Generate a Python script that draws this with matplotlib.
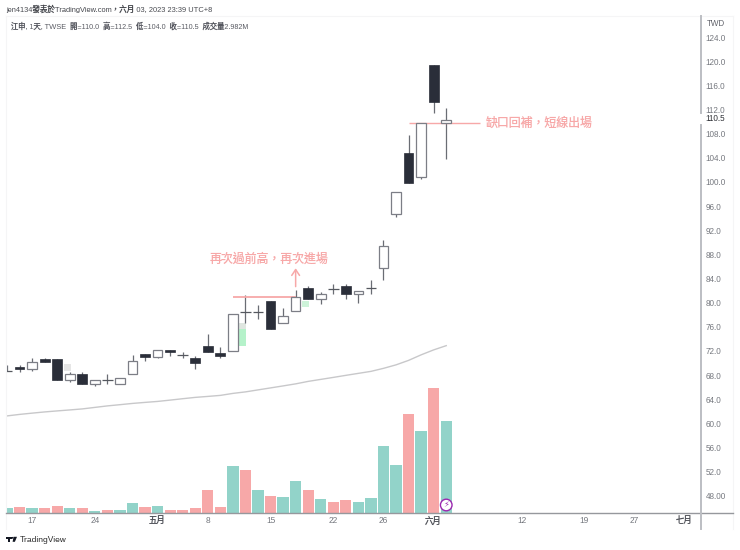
import matplotlib
matplotlib.use("Agg")
import matplotlib.pyplot as plt
from matplotlib.patches import Polygon, Circle

plt.rcParams['font.family'] = ['Liberation Sans', 'Noto Sans CJK TC', 'DejaVu Sans']
plt.rcParams['text.hinting'] = 'no_autohint'

# ---- data ----
opens  = [69.0,69.6,69.2,70.9,70.9,67.5,68.5,66.7,67.4,66.8,68.4,71.75,71.25,72.45,71.6,71.0,
          73.0,71.95,72.2,78.7,78.7,80.5,76.8,78.9,82.6,80.9,82.45,83.0,81.7,82.7,86.05,94.95,
          105.05,101.05,119.55,110.0]
closes = [69.0,69.2,70.47,70.4,67.5,68.5,66.7,67.4,67.4,67.75,70.5,71.25,72.45,72.1,71.6,70.2,
          72.0,71.35,78.4,78.7,78.7,75.8,78.0,81.1,80.8,81.6,82.45,81.6,82.2,82.7,89.65,98.65,
          100.05,110.05,113.5,110.5]
highs  = [69.9,69.9,71.0,71.1,70.9,68.75,68.75,67.4,68.5,67.75,71.5,71.75,72.45,72.45,72.05,71.35,
          75.0,72.9,78.4,81.5,79.9,80.5,79.4,82.4,83.0,82.0,83.3,83.4,82.2,84.0,90.6,98.65,
          108.05,110.05,119.55,112.5]
lows   = [69.0,68.8,68.9,70.4,67.5,67.15,66.7,66.5,66.8,66.8,68.4,70.5,71.0,71.35,71.1,69.25,
          72.0,71.1,72.2,76.9,77.5,75.8,76.8,78.9,80.8,80.1,81.6,80.85,80.25,81.6,84.05,94.45,
          100.05,100.65,111.6,104.0]
volumes = [0.131,0.164,0.141,0.154,0.220,0.131,0.138,0.043,0.075,0.066,0.318,0.164,0.206,0.088,
           0.098,0.131,0.744,0.164,1.517,1.386,0.721,0.524,0.492,1.026,0.744,0.426,0.351,0.393,
           0.351,0.459,2.163,1.550,3.211,2.664,4.073,2.982]
volume_up = [1,0,1,0,0,1,0,1,0,1,1,0,1,0,0,0,0,0,1,0,1,0,1,1,0,1,0,0,1,1,1,1,0,1,0,1]
ma_line = [61.48,61.73,61.94,62.14,62.31,62.47,62.64,62.89,63.14,63.34,63.55,63.72,63.88,64.1,
           64.33,64.55,64.71,64.88,65.21,65.46,65.79,66.12,66.45,66.79,67.2,67.53,67.86,68.2,
           68.53,68.86,69.36,69.94,70.68,71.6,72.42,73.12]
ghost_x    = [4.8, 18.75, 18.75, 23.75]
ghost_low  = [68.85, 73.0, 75.8, 79.5]
ghost_high = [70.0, 75.8, 76.8, 80.5]
ghost_col  = ['#e6e6e6', '#b5f2ca', '#dfe6e0', '#cdf3d9']

price_ticks = [48+4*k for k in range(20)]
price_labels = ['48.00'] + [f'{v:.1f}' for v in price_ticks[1:]]
date_pos    = [2, 7, 12, 16, 21, 26, 30, 34, 41, 46, 50, 54]
date_labels = ['17', '24', '五月', '8', '15', '22', '26', '六月', '12', '19', '27', '七月']
month_labels = {'五月', '六月', '七月'}

line1_price = 81.25
line1_x = [18, 23]
note1 = '再次過前高，再次進場'
arrow_x = 23
arrow_from, arrow_to = 82.9, 85.95
line2_price = 110.0
line2_x = [32, 37.7]
note2 = '缺口回補，短線出場'
last_price = 110.5

# ---- layout ----
W, H = 740, 550
PINK = '#f7a8a8'
TEAL = '#92d3c9'
DARK = '#2a2e39'
EDGE = '#7c7e86'
GREY = '#6f7279'

fig = plt.figure(figsize=(W/100, H/100), dpi=100, facecolor='white')
ax = fig.add_axes([6/W, (H-512.5)/H, 695/W, 496.5/H])
ax.set_xlim(-0.08, 55.3)
ax.set_ylim(45.48, 127.73)
ax.set_xticks([]); ax.set_yticks([])
for s in ax.spines.values():
    s.set_visible(False)

vax = ax.twinx()
vax.set_ylim(0, 16.25)
vax.set_yticks([])
for s in vax.spines.values():
    s.set_visible(False)
xs = list(range(len(opens)))
vax.bar(xs, volumes, width=0.9, color=[TEAL if u else PINK for u in volume_up], linewidth=0, zorder=1)

ax.set_zorder(vax.get_zorder()+1)
ax.patch.set_visible(False)

ax.plot(xs, ma_line, color='#c8c8ca', lw=1.0, zorder=1)
for gx, lo, hi, c in zip(ghost_x, ghost_low, ghost_high, ghost_col):
    ax.bar(gx, hi-lo, bottom=lo, width=0.55, color=c, linewidth=0, zorder=1.5)

for x, o, c, h, l in zip(xs, opens, closes, highs, lows):
    ax.vlines(x, l, h, color='#6a6d74', lw=0.9, zorder=2)
    if abs(o-c) < 0.01:
        ax.hlines(o, x-0.42, x+0.42, color='#55585f', lw=0.9, zorder=3)
    elif c > o:
        ax.bar(x, c-o, bottom=o, width=0.76, facecolor='white', edgecolor=EDGE, linewidth=0.9, zorder=3)
    else:
        ax.bar(x, o-c, bottom=c, width=0.78, facecolor=DARK, edgecolor=DARK, linewidth=0.5, zorder=3)

# annotations
ax.hlines(line1_price, line1_x[0], line1_x[1], color=PINK, lw=1.3, zorder=2.5)
ax.hlines(line2_price, line2_x[0], line2_x[1], color=PINK, lw=1.0, zorder=2.5)
ax.annotate('', xy=(arrow_x, arrow_to), xytext=(arrow_x, arrow_from),
            arrowprops=dict(arrowstyle='->,head_width=0.28,head_length=0.42', color=PINK, lw=1.1,
                            shrinkA=0, shrinkB=0), zorder=4)

def ftext(x, y, s, **kw):
    kw.setdefault('va', 'center')
    return fig.text(x/W, 1-y/H, s, **kw)

ftext(269.5, 259, note1, color=PINK, fontsize=8.6, ha='center')
ftext(539, 122.5, note2, color=PINK, fontsize=8.6, ha='center')

# header
ftext(6, 9, 'jen4134發表於TradingView.com，六月 03, 2023 23:39 UTC+8', color='#44464c', fontsize=5.4, ha='left')
ftext(11, 26, '江申, 1天, TWSE  開=110.0  高=112.5  低=104.0  收=110.5  成交量2.982M',
      color='#55575f', fontsize=5.2, ha='left')

# frame lines
pix = fig.transFigure
def fline(x0, y0, x1, y1, c, lw):
    fig.add_artist(plt.Line2D([x0/W, x1/W], [1-y0/H, 1-y1/H], color=c, lw=lw, transform=pix))
fline(6, 16, 733, 16, '#f5f5f6', 0.8)
fline(6, 16, 6, 529, '#f5f5f6', 0.8)
fline(733, 16, 733, 529, '#f5f5f6', 0.8)
fline(6, 512.5, 733, 512.5, '#96989d', 1.0)
fline(701, 16, 701, 113, '#bcbec3', 1.4)
fline(701, 125, 701, 529, '#bcbec3', 1.4)

# price scale
ftext(707, 24, 'TWD', color='#5a5c64', fontsize=5.6, ha='left')
for v, lab in zip(price_ticks, price_labels):
    y = ax.transData.transform((0, v))[1]
    fig.text(705.5/W, y/H, lab, color=GREY, fontsize=5.9, ha='left', va='center')
y_last = ax.transData.transform((0, last_price))[1]
fig.text(705.5/W, (y_last+1)/H, f'{last_price:.1f}', color='#22242a', fontsize=5.9, ha='left', va='center')

# date scale
for p, lab in zip(date_pos, date_labels):
    x = ax.transData.transform((p, 0))[0]
    is_m = lab in month_labels
    fig.text(x/W, 1-521/H, lab, color='#4f5158' if is_m else GREY, fontsize=6.0, ha='center', va='center')

# lightning badge on last volume bar
bx = ax.transData.transform((35, 0))[0]
fig.add_artist(Circle((bx, H-505), 5.8, transform=None, facecolor='white', edgecolor='#9c27b0', lw=1.0, zorder=6))
fig.text(bx/W, 1-505/H, '\u26a1', color='#9c27b0', fontsize=6, ha='center', va='center',
         family='DejaVu Sans', zorder=7)

# TradingView logo
logo = '#131722'
for pts in ([(6, 536.8), (11.5, 536.8), (11.5, 538.6), (10.2, 538.6), (10.2, 541.8), (8, 541.8), (8, 538.6), (6, 538.6)],
            [(13.6, 536.8), (17, 536.8), (14.9, 541.8), (12.6, 541.8)]):
    fig.add_artist(Polygon([(x, H-y) for x, y in pts], closed=True, transform=None, facecolor=logo, edgecolor='none'))
fig.add_artist(Circle((12.6, H-537.8), 0.9, transform=None, facecolor=logo, edgecolor='none'))
ftext(20, 540.3, 'TradingView', color='#2a2a2a', fontsize=6.1, ha='left')

fig.savefig('out.png', dpi=100, facecolor='white')
